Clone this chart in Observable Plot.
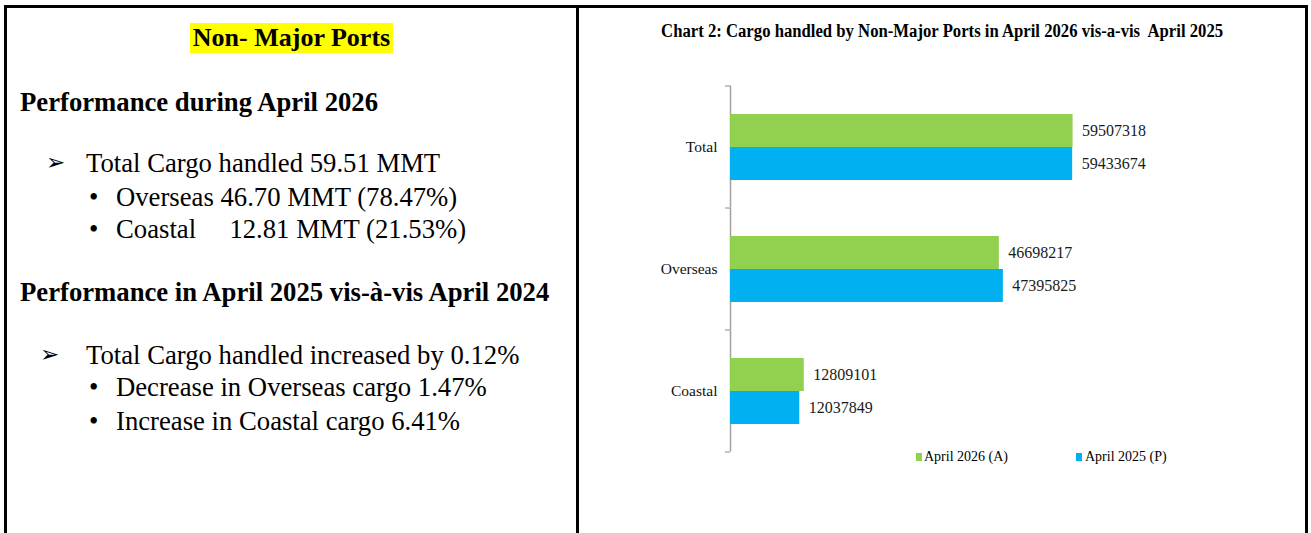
<!DOCTYPE html>
<html>
<head>
<meta charset="utf-8">
<script src="https://cdn.jsdelivr.net/npm/d3@7"></script>
<script src="https://cdn.jsdelivr.net/npm/@observablehq/plot@0.6"></script>
<style>
html, body { margin: 0; padding: 0; background: #fff; overflow: hidden; width: 1311px; height: 533px; }
body { position: relative; font-family: "Liberation Serif", "Times New Roman", serif; color: #000; }
.abs { position: absolute; white-space: pre; }
.frame { position: absolute; left: 4px; top: 5px; width: 1304px; height: 600px; box-sizing: border-box; border: 3px solid #000; border-bottom: none; }
.divider { position: absolute; left: 576px; top: 5px; width: 3px; height: 600px; background: #000; }
.t26 { font-size: 26.7px; line-height: 30px; }
.h26 { font-size: 26px; line-height: 30px; }
.bold { font-weight: bold; }
.arrow { font-family: "DejaVu Sans", sans-serif; font-size: 23px; font-weight: bold; line-height: 30px; }
.hl { background: #ffff00; padding: 0 3px; display: inline-block; line-height: 30px; }
#title { position: absolute; top: 20px; left: 579px; width: 726px; text-align: center; }
#title span { display: inline-block; font-weight: bold; font-size: 18px; line-height: 22px; white-space: pre; transform-origin: center; }
#chart { position: absolute; left: 580px; top: 60px; }
.leg { position: absolute; font-size: 14px; line-height: 16px; white-space: pre; }
.sw { position: absolute; width: 6px; height: 8px; }
</style>
</head>
<body>
<div class="frame"></div>
<div class="divider"></div>

<div class="abs h26 bold" style="left:7px; width:569px; top:23px; text-align:center;"><span class="hl">Non- Major Ports</span></div>
<div class="abs t26 bold" style="left:20px; top:87px;">Performance during April 2026</div>
<div class="abs arrow" style="left:46px; top:147px;">➢</div>
<div class="abs t26" style="left:86px; top:148px;">Total Cargo handled 59.51 MMT</div>
<div class="abs t26" style="left:89px; top:182px;">•</div>
<div class="abs t26" style="left:116px; top:182px;">Overseas 46.70 MMT (78.47%)</div>
<div class="abs t26" style="left:89px; top:214px;">•</div>
<div class="abs t26" style="left:116px; top:214px;">Coastal     12.81 MMT (21.53%)</div>
<div class="abs t26 bold" style="left:20px; top:277px;">Performance in April 2025 vis-à-vis April 2024</div>
<div class="abs arrow" style="left:40px; top:339px;">➢</div>
<div class="abs t26" style="left:86px; top:340px;">Total Cargo handled increased by 0.12%</div>
<div class="abs t26" style="left:89px; top:372px;">•</div>
<div class="abs t26" style="left:116px; top:372px;">Decrease in Overseas cargo 1.47%</div>
<div class="abs t26" style="left:89px; top:406px;">•</div>
<div class="abs t26" style="left:116px; top:406px;">Increase in Coastal cargo 6.41%</div>

<div id="title"><span>Chart 2: Cargo handled by Non-Major Ports in April 2026 vis-a-vis  April 2025</span></div>
<div id="chart"></div>
<div id="legend"></div>

<script>
const categories = ["Total", "Overseas", "Coastal"];
const seriesNames = ["April 2026 (A)", "April 2025 (P)"];
const april2026 = [59507318, 46698217, 12809101];
const april2025 = [59433674, 47395825, 12037849];
const seriesColors = ["#92D050", "#00B0F0"];

const data = categories.flatMap((c, i) => [
  {cat: c, series: seriesNames[0], value: april2026[i]},
  {cat: c, series: seriesNames[1], value: april2025[i]}
]);

const W = 725, H = 396, mT = 26, mB = 4, mL = 150, mR = 172;
const pIn = 0.45, pOut = 0.225;
const step = (H - mT - mB) / (categories.length - pIn + 2 * pOut);
const half = step * pIn / 2;
const axisColor = "#a0a0a0";

const chart = Plot.plot({
  width: W, height: H,
  marginTop: mT, marginBottom: mB, marginLeft: mL, marginRight: mR,
  style: {fontFamily: "'Liberation Serif', serif", fontSize: "15px", color: "#000", background: "transparent"},
  x: {domain: [0, 70000000], axis: null},
  y: {domain: seriesNames, padding: 0, axis: null},
  fy: {domain: categories, paddingInner: pIn, paddingOuter: pOut, axis: null},
  color: {domain: seriesNames, range: seriesColors},
  marks: [
    Plot.ruleX([0], {stroke: axisColor, strokeWidth: 1.5, insetTop: -half, insetBottom: -half}),
    Plot.barX(data, {fy: "cat", y: "series", x: "value", fill: "series"}),
    Plot.text(data, {fy: "cat", y: "series", x: "value", text: d => String(d.value), textAnchor: "start", dx: 9, fontSize: 16, fill: "#1a1a1a"}),
    Plot.axisFy({anchor: "left", tickSize: 0, tickPadding: 13, label: null, fontSize: 15.5, fill: "#111"}),
    Plot.axisFy({anchor: "left", tickSize: 5, fill: "none", label: null, dy: -step / 2, stroke: axisColor, strokeWidth: 1.2}),
    Plot.axisFy({anchor: "left", ticks: [categories[categories.length - 1]], tickSize: 5, fill: "none", label: null, dy: step / 2, stroke: axisColor, strokeWidth: 1.2})
  ]
});
document.getElementById("chart").appendChild(chart);

// legend
const legend = document.getElementById("legend");
const legPos = [{sw: 916, tx: 924}, {sw: 1076, tx: 1085}];
seriesNames.forEach((s, i) => {
  const sw = document.createElement("div");
  sw.className = "sw";
  sw.style.left = legPos[i].sw + "px";
  sw.style.top = "453px";
  sw.style.background = seriesColors[i];
  legend.appendChild(sw);
  const tx = document.createElement("div");
  tx.className = "leg";
  tx.style.left = legPos[i].tx + "px";
  tx.style.top = "449px";
  tx.textContent = s;
  legend.appendChild(tx);
});

// fit title width to reference
const ts = document.querySelector("#title span");
const tw = ts.getBoundingClientRect().width;
ts.style.transform = `scaleX(${562 / tw})`;
</script>
</body>
</html>
